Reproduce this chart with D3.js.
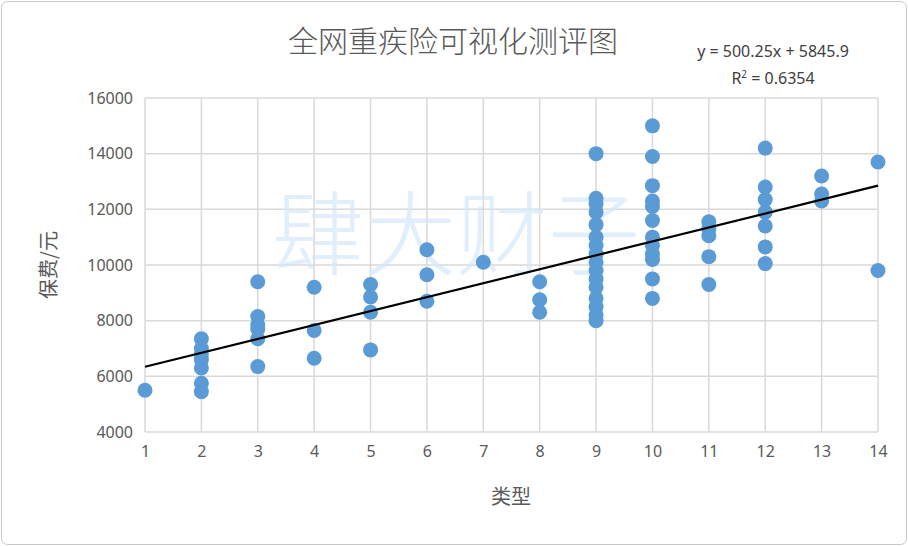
<!DOCTYPE html>
<html><head><meta charset="utf-8">
<script src="https://cdn.jsdelivr.net/npm/d3@7"></script>
<style>body{margin:0;background:#fff}svg{font-family:"Noto Sans CJK SC","Noto Sans",sans-serif}</style>
</head><body><svg id="c" width="908" height="546"></svg>
<script>
const xTicks=[1,2,3,4,5,6,7,8,9,10,11,12,13,14];
const yTicks=[4000,6000,8000,10000,12000,14000,16000];
const groups=[1,2,3,4,5,6,7,8,9,10,11,12,13,14];
const premiums=[
 [5500],
 [7350,7000,6800,6600,6300,5750,5450],
 [9400,8150,7850,7700,7350,6350],
 [9200,7650,6650],
 [9300,8850,8300,6950],
 [10550,9650,8700],
 [10100],
 [9400,8750,8300],
 [14000,12400,12200,11900,11450,11000,10700,10400,10100,9800,9500,9200,8800,8500,8200,8000],
 [15000,13900,12850,12300,12100,11600,11000,10700,10400,10200,9500,8800],
 [11550,11300,11050,10300,9300],
 [14200,12800,12350,11900,11400,10650,10050],
 [13200,12550,12300],
 [13700,9800]
];
const slope=500.25, intercept=5845.9;
const svg=d3.select("#c");
svg.append("rect").attr("x",1.5).attr("y",1.5).attr("width",905).attr("height",543).attr("rx",6).attr("fill","#fff").attr("stroke","#c8c8c8");
const x=d3.scaleLinear().domain([1,14]).range([145,878]);
const y=d3.scaleLinear().domain([4000,16000]).range([432,98]);
const g=svg.append("g");
g.selectAll(".vx").data(xTicks).join("line").attr("x1",d=>x(d)).attr("x2",d=>x(d)).attr("y1",98).attr("y2",432).attr("stroke","#d9d9d9").attr("stroke-width",1.5);
g.selectAll(".hy").data(yTicks).join("line").attr("y1",d=>y(d)).attr("y2",d=>y(d)).attr("x1",145).attr("x2",878).attr("stroke","#d9d9d9").attr("stroke-width",1.5);
svg.append("text").attr("x",456).attr("y",268).attr("text-anchor","middle").attr("font-size",92).attr("font-weight",300).attr("fill","#d3e9fa").attr("opacity",0.7).text("肆大财子");
const xa=svg.append("g").attr("transform","translate(0,432)").call(d3.axisBottom(x).tickValues(xTicks).tickSize(0).tickPadding(14).tickFormat(d3.format("d")));
const ya=svg.append("g").attr("transform","translate(145,0)").call(d3.axisLeft(y).tickValues(yTicks).tickSize(0).tickPadding(12).tickFormat(d3.format("d")));
[xa,ya].forEach(a=>{a.select(".domain").remove();a.selectAll("text").attr("font-size",16).attr("fill","#595959").attr("font-family","Noto Sans, sans-serif");});
const pts=groups.flatMap((gx,i)=>premiums[i].map(v=>({gx,v})));
svg.selectAll("circle.p").data(pts).join("circle").attr("cx",d=>x(d.gx)).attr("cy",d=>y(d.v)).attr("r",7.5).attr("fill","#5b9bd5");
svg.append("line").attr("x1",x(1)).attr("y1",y(slope*1+intercept)).attr("x2",x(14)).attr("y2",y(slope*14+intercept)).attr("stroke","#000").attr("stroke-width",2.2);
svg.append("text").attr("x",453).attr("y",52).attr("text-anchor","middle").attr("font-size",30).attr("font-weight",300).attr("fill","#595959").text("全网重疾险可视化测评图");
svg.append("text").attr("x",773).attr("y",57).attr("text-anchor","middle").attr("font-size",16).attr("fill","#404040").attr("font-family","Noto Sans, sans-serif").text("y = 500.25x + 5845.9");
const r2=svg.append("text").attr("x",773).attr("y",84).attr("text-anchor","middle").attr("font-size",16).attr("fill","#404040").attr("font-family","Noto Sans, sans-serif");
r2.append("tspan").text("R");
r2.append("tspan").attr("dy",-6).attr("font-size",10).text("2");
r2.append("tspan").attr("dy",6).text(" = 0.6354");
svg.append("text").attr("x",511).attr("y",504).attr("text-anchor","middle").attr("font-size",20).attr("fill","#595959").text("类型");
svg.append("text").attr("transform","translate(56,265) rotate(-90)").attr("text-anchor","middle").attr("font-size",20).attr("fill","#595959").text("保费/元");
</script></body></html>
